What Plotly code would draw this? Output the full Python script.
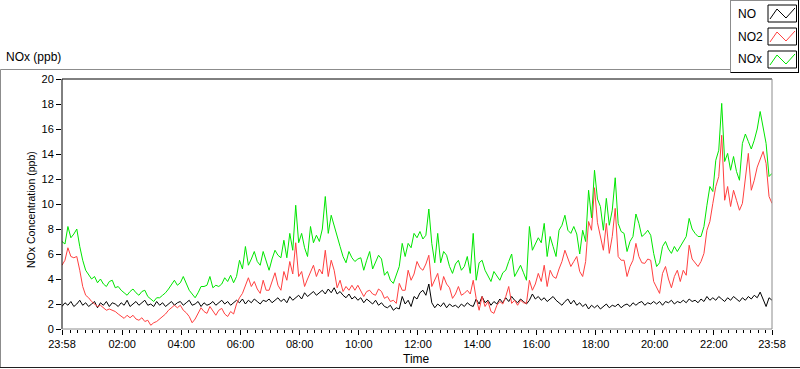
import plotly.graph_objects as go
import pandas as pd

# ---------------- data (6-minute samples) ----------------
START = "2023-01-01 23:58"
STEP = "6min"

NO = [
    1.8, 2.1, 1.9, 2.2, 1.8, 2.0, 2.3, 1.9, 2.1, 1.8,
    2.0, 2.2, 1.7, 2.1, 1.9, 2.2, 1.8, 2.1, 2.0, 1.8,
    2.1, 1.9, 2.3, 1.8, 2.0, 2.2, 1.9, 2.1, 2.3, 1.9,
    2.0, 1.8, 2.2, 1.9, 2.1, 1.8, 2.0, 2.2, 1.9, 2.1,
    2.2, 1.9, 2.1, 2.3, 1.9, 2.0, 2.2, 1.8, 2.1, 1.9,
    2.0, 2.2, 1.9, 2.1, 2.3, 2.0, 2.2, 1.9, 2.1, 2.3,
    2.1, 2.4, 2.0, 2.3, 2.1, 2.4, 2.2, 2.0, 2.3, 2.2,
    2.4, 2.1, 2.3, 2.5, 2.2, 2.4, 2.1, 2.6, 2.3, 2.5,
    2.7, 2.4, 2.9, 2.6, 2.8, 3.0, 2.7, 2.9, 3.1, 2.8,
    3.2, 2.9, 3.3, 2.8, 3.0, 2.7, 2.5, 2.8, 2.4, 2.6,
    2.3, 2.5, 2.1, 2.4, 2.2, 2.0, 2.3, 1.9, 2.1, 1.8,
    1.7, 1.9, 1.5, 1.7, 1.6, 2.6, 2.0, 2.3, 1.8, 2.6,
    2.4, 2.9, 3.1, 2.7, 3.6, 2.1, 1.7, 2.0, 1.8, 2.1,
    1.7, 2.0, 1.8, 1.9, 1.7, 2.0, 1.8, 2.1, 1.9, 1.8,
    2.4, 2.0, 2.6, 2.1, 2.3, 1.9, 2.2, 2.0, 2.4, 2.1,
    2.5, 2.2, 2.6, 2.3, 2.1, 2.4, 2.2, 2.0, 2.3, 2.8,
    2.4, 2.6, 2.3, 2.5, 2.2, 2.4, 2.6, 2.3, 2.1, 1.9,
    2.2, 2.4, 2.0, 2.3, 1.9, 2.1, 1.8, 2.0, 1.6, 1.9,
    1.7, 1.9, 1.6, 1.8, 2.0, 1.7, 1.9, 1.8, 2.0, 1.7,
    1.9, 2.0, 1.8, 2.1, 1.9, 2.1, 2.2, 1.9, 2.1, 2.0,
    2.2, 2.0, 2.2, 1.9, 2.2, 2.1, 2.3, 2.0, 2.2, 2.1,
    2.3, 2.1, 2.4, 2.2, 2.3, 2.1, 2.4, 2.2, 2.6, 2.3,
    2.5, 2.3, 2.6, 2.4, 2.2, 2.5, 2.3, 2.6, 2.4, 2.2,
    2.5, 2.3, 2.6, 2.4, 2.7, 2.5, 2.95, 2.4, 1.8, 2.5,
    2.3,
]

NO2 = [
    5.1, 5.5, 6.5, 5.8, 5.7, 5.8, 4.7, 3.4, 2.7, 2.5,
    2.2, 2.0, 1.8, 1.9, 1.7, 1.5, 1.6, 1.5, 1.4, 1.2,
    1.0, 0.85, 1.1, 0.9, 1.1, 0.8, 0.7, 0.9, 0.6, 0.7,
    0.3, 0.5, 0.6, 0.8, 1.0, 1.2, 1.5, 1.7, 1.9, 1.7,
    1.9, 1.5, 1.3, 1.0, 0.5, 0.8, 1.2, 1.7, 1.4, 1.25,
    1.8, 1.4, 1.1, 1.5, 1.65, 1.2, 1.0, 1.4, 1.2, 2.0,
    2.5, 2.85, 3.4, 4.1, 3.4, 3.8, 3.2, 2.85, 3.9, 3.1,
    3.1, 3.8, 4.5, 3.5, 3.1, 4.6, 3.9, 5.4, 4.4, 6.9,
    4.2, 4.6, 3.4, 4.0, 4.5, 5.1, 4.2, 4.8, 4.4, 6.3,
    4.2, 5.5, 4.7, 3.3, 3.9, 3.0, 3.4, 3.1, 3.5, 3.1,
    3.5, 3.1, 2.6, 3.0, 3.1, 2.8, 2.7, 3.2, 3.0, 2.45,
    2.6, 2.2, 2.3, 2.05, 3.65, 3.1, 3.1, 4.7, 3.9, 4.4,
    5.4, 4.9, 4.7, 5.2, 5.9, 3.4, 3.9, 4.45, 3.1, 4.2,
    3.6, 3.3, 2.45, 2.8, 3.4, 2.7, 2.85, 3.1, 2.8, 3.9,
    2.45, 1.5, 2.6, 1.8, 2.2, 1.4, 1.25, 1.9, 2.2, 2.0,
    2.6, 3.4, 2.05, 2.3, 1.9, 2.3, 2.1, 2.05, 3.9, 3.1,
    3.6, 4.45, 3.8, 5.1, 3.4, 4.7, 4.2, 4.05, 4.8, 5.4,
    6.3, 5.6, 5.0, 5.4, 5.8, 4.6, 4.2, 5.4, 8.6, 7.9,
    11.3, 8.5, 7.25, 6.3, 8.45, 6.05, 7.4, 9.65, 5.8, 5.5,
    5.5, 4.2, 5.0, 5.5, 6.85, 5.8, 5.3, 5.25, 5.6, 5.5,
    3.8, 3.3, 2.85, 4.45, 5.0, 4.0, 3.3, 4.2, 4.7, 3.8,
    4.7, 4.3, 6.7, 5.6, 5.25, 5.0, 5.4, 6.05, 7.9, 8.6,
    10.05, 11.4, 12.2, 15.5, 10.3, 11.4, 9.8, 11.1, 10.3, 9.5,
    10.05, 12.0, 14.05, 11.1, 11.9, 12.95, 13.6, 14.2, 13.25, 10.6,
    10.05,
]

NOX = [
    7.0, 6.8, 8.2, 7.3, 7.6, 8.0, 6.6, 5.5, 4.7, 4.3,
    4.0, 4.2, 3.7, 4.0, 3.6, 3.4, 3.8, 3.9, 3.3, 3.4,
    3.1, 2.9, 2.7, 3.0, 3.2, 2.9, 2.7, 3.0, 3.1, 2.6,
    2.4, 2.2, 2.5, 2.5, 2.7, 2.9, 3.2, 3.6, 3.9, 3.5,
    3.7, 4.2, 3.6, 3.1, 2.8, 2.5, 2.9, 3.4, 3.4, 3.5,
    4.2, 3.3, 3.5, 3.4, 3.6, 4.1, 3.8, 4.3, 3.7, 4.2,
    5.5, 4.8, 6.6, 5.1, 5.6, 6.2, 5.4, 5.1, 6.2, 5.4,
    4.7, 5.6, 6.3, 5.9, 5.7, 7.1, 5.7, 7.65, 6.3, 9.9,
    6.9, 7.65, 6.5, 5.8, 8.2, 6.9, 7.5, 7.0, 8.0, 10.6,
    7.65, 9.1, 8.2, 7.4, 6.6, 5.8, 5.3, 6.2, 5.7, 5.4,
    5.6, 5.7, 4.7, 5.5, 6.2, 4.8, 5.3, 5.9, 5.6, 4.3,
    4.6, 3.9, 3.65, 4.3, 5.0, 6.85, 5.8, 6.85, 6.5, 7.65,
    7.3, 7.8, 7.2, 7.5, 9.6, 6.85, 5.3, 7.65, 5.3, 6.2,
    5.9, 5.0, 4.45, 5.2, 5.5, 4.7, 5.0, 5.8, 4.45, 7.65,
    3.9, 5.3, 5.5, 4.7, 4.2, 3.8, 4.6, 4.2, 3.9, 4.5,
    4.7, 5.4, 6.0, 4.2, 4.6, 5.1, 4.5, 3.9, 8.2, 6.3,
    6.8, 7.3, 6.9, 8.45, 5.8, 7.4, 6.6, 5.8, 7.9, 8.3,
    9.1, 7.9, 7.65, 8.2, 7.6, 6.0, 7.9, 7.0, 11.1, 8.9,
    12.7, 10.4, 9.8, 7.9, 10.45, 8.3, 9.5, 12.1, 8.45, 7.8,
    7.65, 6.2, 7.0, 7.4, 9.2, 8.45, 7.4, 7.6, 7.9, 7.5,
    6.05, 5.0, 5.3, 6.6, 7.0, 6.4, 6.05, 6.6, 6.2, 6.6,
    7.0, 7.4, 8.85, 8.0, 7.65, 7.4, 7.4, 8.2, 9.9, 11.4,
    11.0, 13.5, 14.3, 18.05, 13.4, 14.05, 12.7, 13.8, 12.6, 11.9,
    14.85, 15.6, 15.0, 14.4, 15.1, 16.0, 17.4, 16.2, 14.85, 12.2,
    12.45,
]

SERIES_NAMES = ["NO", "NO2", "NOx"]
SERIES_COLORS = ["#000000", "#FF4040", "#00E600"]

X_TICK_LABELS = ["23:58", "02:00", "04:00", "06:00", "08:00", "10:00", "12:00",
                 "14:00", "16:00", "18:00", "20:00", "22:00", "23:58"]
Y_TICKS = list(range(0, 21, 2))

# ---------------- figure ----------------
times = pd.date_range(START, periods=len(NO), freq=STEP)
t0, t1 = times[0], times[-1]
day = t1.normalize()
tick_vals = [t0] + [day + pd.Timedelta(hours=int(s[:2]), minutes=int(s[3:])) for s in X_TICK_LABELS[1:-1]] + [t1]

W, H = 800, 369
L, R, T, B = 62, 28, 79, 40
PW, PH = W - L - R, H - T - B


def px(x):
    return (x - L) / PW


def py(y):
    return (H - B - y) / PH


FONT = "Liberation Sans, Arial, sans-serif"

fig = go.Figure()
for name, vals, col in zip(SERIES_NAMES, [NO, NO2, NOX], SERIES_COLORS):
    fig.add_trace(go.Scatter(x=times, y=vals, mode="lines", name=name,
                             line=dict(color=col, width=1), showlegend=False))

fig.update_layout(
    width=W, height=H, autosize=False,
    margin=dict(l=L, r=R, t=T, b=B, pad=0),
    paper_bgcolor="white", plot_bgcolor="white",
    font=dict(family=FONT, size=11, color="#000000"),
    showlegend=False,
    xaxis=dict(
        type="date", range=[t0, t1], showgrid=False, zeroline=False, showline=False,
        tickmode="array", tickvals=tick_vals, ticktext=X_TICK_LABELS,
        ticks="outside", ticklen=5, tickwidth=1, tickcolor="#000000",
        tickfont=dict(family=FONT, size=11, color="#000000"),
        minor=dict(ticks="outside", ticklen=3, tickwidth=1, tickcolor="#000000",
                   dtick=15 * 60 * 1000, tick0=day, showgrid=False),
    ),
    yaxis=dict(
        range=[0, 20], showgrid=False, zeroline=False, showline=False,
        tickmode="array", tickvals=Y_TICKS, ticktext=[str(v) for v in Y_TICKS],
        ticks="outside", ticklen=5, tickwidth=1, tickcolor="#000000",
        tickfont=dict(family=FONT, size=11, color="#000000"),
    ),
)

shapes = []


def line(x0, y0, x1, y1, color, width=1):
    shapes.append(dict(type="line", xref="paper", yref="paper",
                       x0=px(x0), y0=py(y0), x1=px(x1), y1=py(y1),
                       line=dict(color=color, width=width), layer="above"))


# plot-area frame (sunken look)
line(L, T, L, H - B, "#000000")
line(L, T, W - R, T, "#000000")
line(W - R, T, W - R, H - B, "#8C8C8C")
line(L, H - B, W - R, H - B, "#8C8C8C")

# outer frame
line(0.5, 69.5, 730, 69.5, "#8C8C8C")
line(0.5, 69.5, 0.5, 368, "#8C8C8C")
line(0, 367.5, W, 367.5, "#202020")

# legend box
line(730.5, 0, 730.5, 72.5, "#8C8C8C")
line(730.5, 0.5, 799, 0.5, "#8C8C8C")
line(798.5, 0, 798.5, 72.5, "#000000")
line(730.5, 72.5, 799, 72.5, "#000000")

annotations = []
row_tops = [5, 28, 51]
for name, col, y0 in zip(SERIES_NAMES, SERIES_COLORS, row_tops):
    shapes.append(dict(type="rect", xref="paper", yref="paper",
                       x0=px(768), x1=px(796.5), y0=py(y0), y1=py(y0 + 17),
                       line=dict(color="#000000", width=1), fillcolor="white", layer="above"))
    pts = [(770, y0 + 14), (777, y0 + 4), (786, y0 + 13), (795, y0 + 3)]
    path = "M " + " L ".join(f"{px(a):.5f},{py(b):.5f}" for a, b in pts)
    shapes.append(dict(type="path", xref="paper", yref="paper", path=path,
                       line=dict(color=col, width=1), layer="above"))
    annotations.append(dict(text=name, xref="paper", yref="paper", x=px(736), y=py(y0 + 8.5),
                            xanchor="left", yanchor="middle", showarrow=False,
                            font=dict(family=FONT, size=12, color="#000000")))

annotations.append(dict(text="NOx (ppb)", xref="paper", yref="paper", x=px(4), y=py(57),
                        xanchor="left", yanchor="middle", showarrow=False,
                        font=dict(family=FONT, size=12, color="#000000")))
annotations.append(dict(text="NOx Concentration (ppb)", xref="paper", yref="paper",
                        x=px(31), y=py(210), textangle=-90,
                        xanchor="center", yanchor="middle", showarrow=False,
                        font=dict(family=FONT, size=10.5, color="#000000")))
annotations.append(dict(text="Time", xref="paper", yref="paper", x=px(416), y=py(359),
                        xanchor="center", yanchor="middle", showarrow=False,
                        font=dict(family=FONT, size=12, color="#000000")))

fig.update_layout(shapes=shapes, annotations=annotations)
fig.write_html(
    "out.html",
    config={"displayModeBar": False},
    post_script="document.body.style.margin='0';document.body.style.overflow='hidden';",
)
